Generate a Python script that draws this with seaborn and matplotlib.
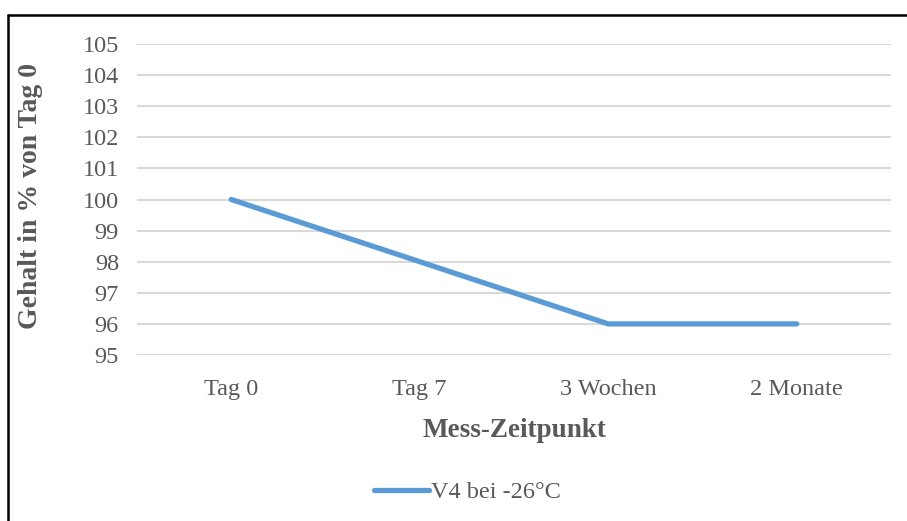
import matplotlib
matplotlib.use("Agg")
import matplotlib.pyplot as plt
import seaborn as sns
import pandas as pd
from matplotlib.lines import Line2D

categories = ["Tag 0", "Tag 7", "3 Wochen", "2 Monate"]
values = [100, 98, 96, 96]
series_name = "V4 bei -26°C"
y_ticks = [95, 96, 97, 98, 99, 100, 101, 102, 103, 104, 105]

sns.set_theme(style="white")
plt.rcParams['font.family'] = ['Liberation Serif', 'DejaVu Serif']

df = pd.DataFrame({"x": range(len(categories)), "y": values})

fig = plt.figure(figsize=(9.07, 5.21), dpi=100)
ax = fig.add_axes([137/907, 1-355/521, (891-137)/907, (355-44)/521])

sns.lineplot(data=df, x="x", y="y", ax=ax, color="#5B9BD5", linewidth=3.8,
             solid_capstyle="round", solid_joinstyle="miter", label=series_name, legend=False)

ax.set_xlim(-0.5, 3.5)
ax.set_ylim(95, 105)
ax.set_yticks(y_ticks)
ax.set_yticklabels([str(t) for t in y_ticks], fontsize=17.5, color="#595959")
ax.set_xticks(range(len(categories)))
ax.set_xticklabels(categories, fontsize=17.5, color="#595959")
ax.tick_params(axis="y", length=0, pad=13)
ax.tick_params(axis="x", length=0, pad=17)
ax.grid(axis="y", color="#D9D9D9", linewidth=1.5)
ax.set_axisbelow(True)
for s in ax.spines.values():
    s.set_visible(False)

ax.set_xlabel("Mess-Zeitpunkt", fontsize=19.5, fontweight="bold", color="#595959")
ax.set_ylabel("Gehalt in % von Tag 0", fontsize=20, fontweight="bold", color="#595959")
ax.xaxis.set_label_coords(0.5, (355-418)/311)
ax.yaxis.set_label_coords((43-137)/754, 0.51)

handle = Line2D([], [], color="#5B9BD5", linewidth=3.8, solid_capstyle="round")
fig.legend([handle], [series_name], loc="center", bbox_to_anchor=(467/907, 1-492/521),
           frameon=False, fontsize=17.5, handlelength=2.3, handletextpad=0.05, labelcolor="#595959")

# outer border (top and left edges visible)
fig.add_artist(Line2D([7.5/907, 1.0], [1-14.5/521, 1-14.5/521], color="black", linewidth=1.8,
                      transform=fig.transFigure))
fig.add_artist(Line2D([7.5/907, 7.5/907], [0.0, 1-14.5/521], color="black", linewidth=1.8,
                      transform=fig.transFigure))

fig.savefig("out.png", dpi=100, facecolor="white")
